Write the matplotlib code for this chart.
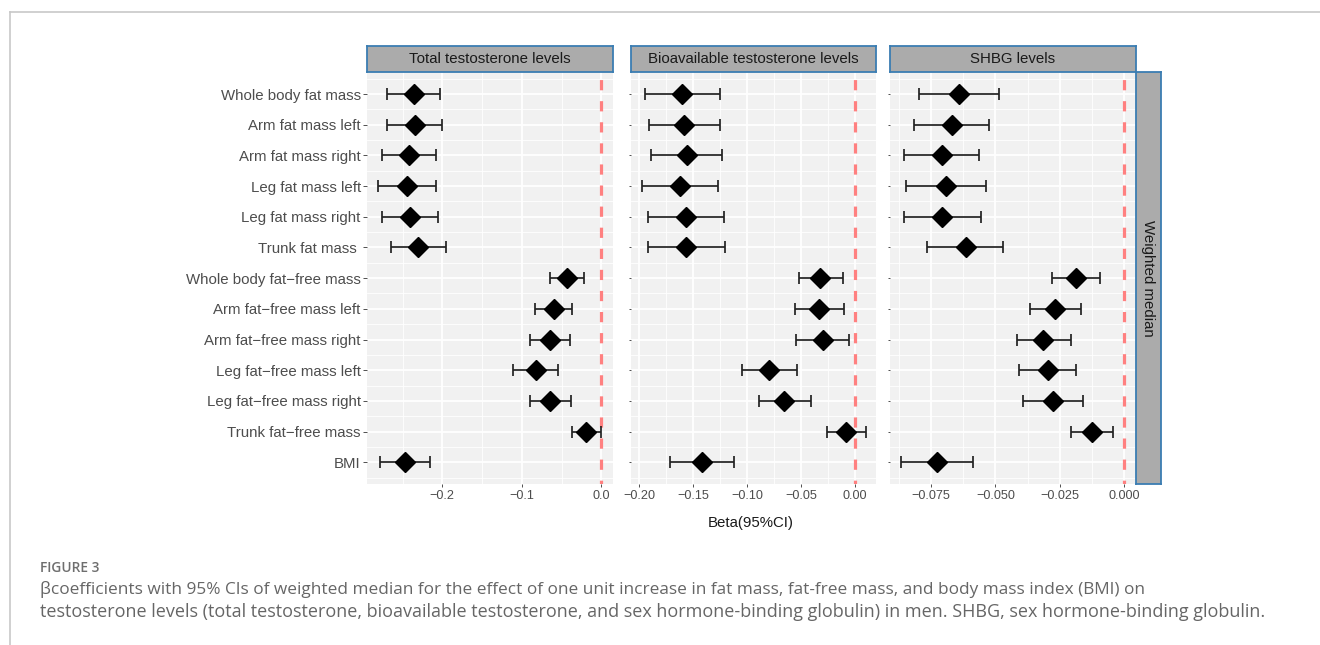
import matplotlib
matplotlib.use("Agg")
import matplotlib.pyplot as plt
import numpy as np

categories = ["Whole body fat mass", "Arm fat mass left", "Arm fat mass right",
              "Leg fat mass left", "Leg fat mass right", "Trunk fat mass ",
              "Whole body fat\u2212free mass", "Arm fat\u2212free mass left",
              "Arm fat\u2212free mass right", "Leg fat\u2212free mass left",
              "Leg fat\u2212free mass right", "Trunk fat\u2212free mass", "BMI"]

panel_titles = ["Total testosterone levels", "Bioavailable testosterone levels", "SHBG levels"]
row_title = "Weighted median"

tt_est = [-0.235, -0.234, -0.242, -0.244, -0.241, -0.230, -0.0436, -0.060, -0.065, -0.082, -0.0645, -0.019, -0.2465]
tt_lo = [-0.269, -0.269, -0.276, -0.2805, -0.276, -0.2645, -0.064, -0.084, -0.090, -0.111, -0.090, -0.037, -0.278]
tt_hi = [-0.2025, -0.200, -0.208, -0.208, -0.206, -0.195, -0.0218, -0.037, -0.040, -0.055, -0.038, -0.001, -0.215]

bt_est = [-0.160, -0.158, -0.156, -0.162, -0.1566, -0.1563, -0.032, -0.0336, -0.030, -0.0795, -0.0653, -0.0086, -0.1415]
bt_lo = [-0.195, -0.191, -0.1886, -0.197, -0.1917, -0.1917, -0.0514, -0.0558, -0.0548, -0.1045, -0.0893, -0.026, -0.1716]
bt_hi = [-0.125, -0.1254, -0.1236, -0.1267, -0.1217, -0.1205, -0.011, -0.0104, -0.0052, -0.054, -0.041, 0.0099, -0.1119]

sh_est = [-0.0641, -0.0667, -0.0706, -0.0690, -0.0705, -0.0615, -0.0187, -0.0269, -0.0314, -0.0297, -0.0278, -0.0125, -0.0726]
sh_lo = [-0.0796, -0.0814, -0.0853, -0.0847, -0.0855, -0.0763, -0.028, -0.0366, -0.0418, -0.0409, -0.0391, -0.0206, -0.0867]
sh_hi = [-0.0487, -0.0523, -0.0562, -0.0536, -0.0555, -0.0470, -0.0095, -0.0170, -0.0208, -0.0187, -0.0161, -0.0043, -0.0588]

x_breaks = [[-0.2, -0.1, 0.0], [-0.20, -0.15, -0.10, -0.05, 0.00], [-0.075, -0.050, -0.025, 0.000]]
x_break_labels = [["\u22120.2", "\u22120.1", "0.0"],
                  ["\u22120.20", "\u22120.15", "\u22120.10", "\u22120.05", "0.00"],
                  ["\u22120.075", "\u22120.050", "\u22120.025", "0.000"]]
x_limits = [(-0.294, 0.014), (-0.208, 0.0195), (-0.091, 0.0043)]
x_title = "Beta(95%CI)"

caption_head = "FIGURE 3"
caption_lines = ["\u03b2coefficients with 95% CIs of weighted median for the effect of one unit increase in fat mass, fat-free mass, and body mass index (BMI) on",
                 "testosterone levels (total testosterone, bioavailable testosterone, and sex hormone-binding globulin) in men. SHBG, sex hormone-binding globulin."]

W, H = 1320, 645
fig = plt.figure(figsize=(W / 100, H / 100), dpi=100)
plt.rcParams['font.family'] = ['Liberation Sans', 'DejaVu Sans']

def fx(px):
    return px / W

def fy(py):
    return 1 - py / H

# card border
fig.add_artist(plt.Line2D([fx(10), fx(10)], [fy(12), 0], color="#C8C8C8", lw=1.2, transform=fig.transFigure))
fig.add_artist(plt.Line2D([fx(10), 1], [fy(12), fy(12)], color="#C8C8C8", lw=1.2, transform=fig.transFigure))

panel_x = [(367.5, 612.5), (630.5, 876), (889.5, 1135.5)]
top, bot = 72, 484
strip_top = 45.5
STRIP_FACE = "#ABABAB"
STRIP_EDGE = "#3B7DB2"
TXT = "#4D4D4D"

series = [(tt_est, tt_lo, tt_hi), (bt_est, bt_lo, bt_hi), (sh_est, sh_lo, sh_hi)]
ypos = np.arange(1, len(categories) + 1)

for i, (x0, x1) in enumerate(panel_x):
    ax = fig.add_axes([fx(x0), fy(bot), fx(x1 - x0), (bot - top) / H])
    ax.set_facecolor("#F1F1F1")
    for s in ax.spines.values():
        s.set_visible(False)
    est, lo, hi = series[i]
    est = np.array(est); lo = np.array(lo); hi = np.array(hi)
    ax.set_xlim(*x_limits[i])
    ax.set_ylim(13.71, 0.28)
    # grid
    br = x_breaks[i]
    step = br[1] - br[0]
    minors = np.arange(br[0] - step / 2, x_limits[i][1], step)
    for m in minors:
        ax.axvline(m, color="white", lw=0.6, zorder=0)
    for b in br:
        ax.axvline(b, color="white", lw=1.3, zorder=0)
    for y in ypos:
        ax.axhline(y, color="white", lw=1.3, zorder=0)
    for y in np.arange(0.5, 14, 1.0):
        ax.axhline(y, color="white", lw=0.6, zorder=0)
    ax.axvline(0, color="#FF8080", lw=2.3, ls=(2.0, (3.2, 3.4)), zorder=1)
    ax.errorbar(est, ypos, xerr=[est - lo, hi - est], fmt="none", ecolor="#222222",
                elinewidth=1.25, capsize=4.0, capthick=1.25, zorder=2)
    ax.plot(est, ypos, ls="none", marker="D", ms=10, color="black", zorder=3)
    ax.set_xticks(br)
    ax.set_xticklabels(x_break_labels[i], fontsize=9.1, color=TXT)
    ax.tick_params(axis="x", length=2.5, width=0.6, color="#333333", pad=2)
    ax.set_yticks(ypos)
    if i == 0:
        ax.set_yticklabels(categories, fontsize=10.8, color=TXT)
        ax.tick_params(axis="y", length=2.8, width=0.6, color="#333333", pad=2)
    else:
        ax.set_yticklabels([])
        ax.tick_params(axis="y", length=1.2, width=0.6, color="#333333", pad=1)
    # top strip
    sax = fig.add_axes([fx(x0), fy(top), fx(x1 - x0), (top - strip_top) / H])
    sax.set_xticks([]); sax.set_yticks([])
    sax.set_facecolor(STRIP_FACE)
    for s in sax.spines.values():
        s.set_color(STRIP_EDGE); s.set_linewidth(1.3)
    sax.text(0.5, 0.5, panel_titles[i], ha="center", va="center", fontsize=10.8,
             color="#1A1A1A", transform=sax.transAxes)

# right strip
rax = fig.add_axes([fx(1135.5), fy(bot), fx(25), (bot - top) / H])
rax.set_xticks([]); rax.set_yticks([])
rax.set_facecolor(STRIP_FACE)
for s in rax.spines.values():
    s.set_color(STRIP_EDGE); s.set_linewidth(1.3)
rax.text(0.5, 0.5, row_title, ha="center", va="center", rotation=-90, fontsize=10.8,
         color="#1A1A1A", transform=rax.transAxes)

fig.text(fx(751), fy(523), x_title, ha="center", va="center", fontsize=10.8, color="#1A1A1A")

fig.text(fx(40), fy(568), caption_head, ha="left", va="center", fontsize=9.9,
         color="#6E6E6E", family=["Open Sans", "DejaVu Sans"], fontweight="semibold")
fig.text(fx(40), fy(590), caption_lines[0], ha="left", va="center", fontsize=12.45,
         color="#666666", family=["Open Sans", "DejaVu Sans"])
fig.text(fx(40), fy(612), caption_lines[1], ha="left", va="center", fontsize=13.0,
         color="#666666", family=["Open Sans", "DejaVu Sans"])

fig.savefig("out.png", dpi=100, facecolor="white")
